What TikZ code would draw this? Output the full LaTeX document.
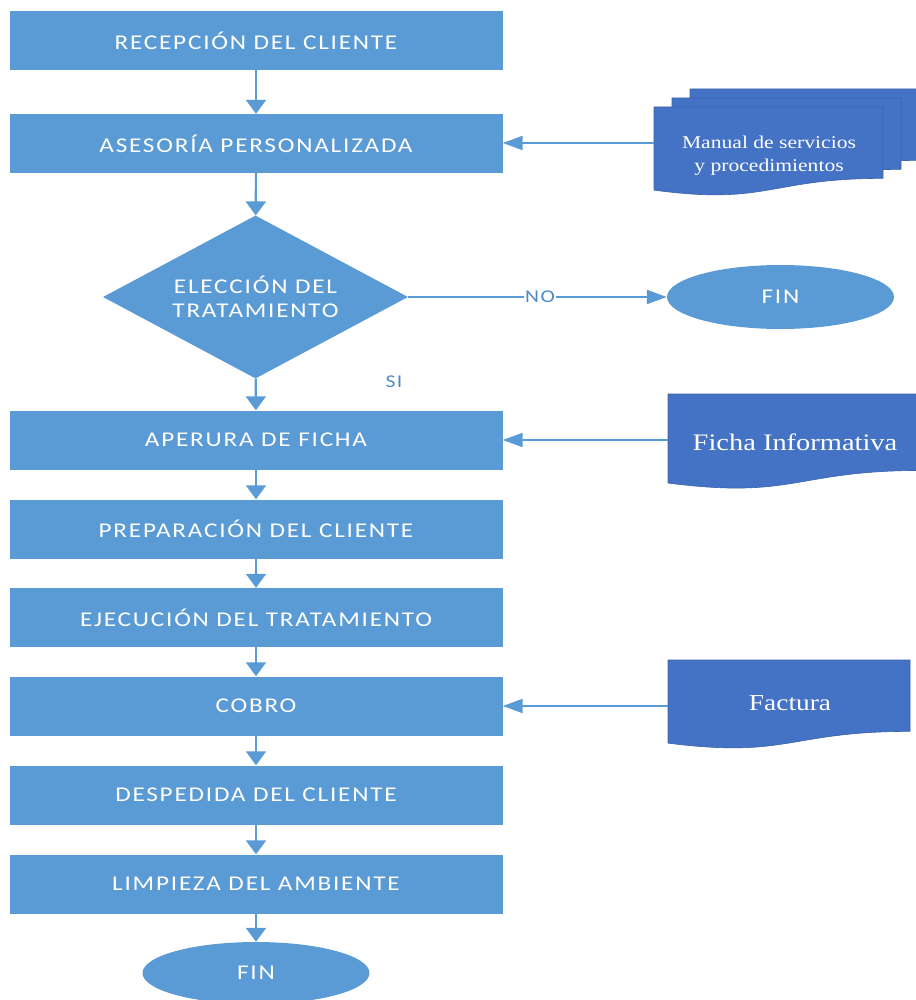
\documentclass[tikz,border=0pt]{standalone}
\usepackage{fontspec}
\setmainfont{Carlito}[FakeStretch=1.2, LetterSpace=8.5]
\newfontfamily\docfont{Liberation Serif}[FakeStretch=1.2]
\usetikzlibrary{shapes.geometric,arrows.meta}
\definecolor{boxblue}{HTML}{5B9BD5}
\definecolor{docblue}{HTML}{4472C4}
\definecolor{docedge}{HTML}{3A63AD}
\definecolor{lblblue}{HTML}{4E8ACB}
\newcommand\mydoc[4]{\path[docshape] (#1,#2) -- ({#1+#3},#2) -- ({#1+#3},{#2+0.802*#4}) .. controls ({#1+0.5*#3},{#2+0.802*#4}) and ({#1+0.5*#3},{#2+1.107*#4}) .. (#1,{#2+0.934*#4}) -- cycle;}
\tikzset{
  procbox/.style={rectangle, fill=boxblue, minimum width=493pt, minimum height=59pt, text=white, font=\fontsize{21}{24}\selectfont, inner sep=0pt},
  decision/.style={diamond, aspect=1.87, fill=boxblue, minimum width=305pt, minimum height=163pt, text=white, font=\fontsize{21}{24}\selectfont, align=center, inner sep=0pt},
  terminal/.style={ellipse, fill=boxblue, minimum width=227pt, minimum height=62pt, text=white, font=\fontsize{21}{24}\selectfont, inner sep=0pt},
  flow/.style={draw=boxblue, line width=2.2pt, -{Triangle[length=14pt,width=20pt]}},
  sideflow/.style={draw=boxblue, line width=2.2pt, -{Triangle[length=20pt,width=14pt]}},
  docshape/.style={fill=docblue, draw=docedge, line width=0.6pt},
  doctext/.style={text=white, align=center, inner sep=0pt},
  lbl/.style={text=lblblue, font=\fontsize{18}{20}\selectfont, inner sep=1pt}
}
\begin{document}
\begin{tikzpicture}[x=1pt,y=-1pt]
\useasboundingbox (0,0) rectangle (915,1000);
% process boxes
\node[procbox] (recep)    at (256,40.5)  {RECEPCIÓN DEL CLIENTE};
\node[procbox] (asesoria) at (256,143.5) {ASESORÍA PERSONALIZADA};
\node[decision] (eleccion) at (255.5,297) {ELECCIÓN DEL\\TRATAMIENTO};
\node[procbox] (apertura) at (256,440)   {APERURA DE FICHA};
\node[procbox] (prep)     at (256,529)   {PREPARACIÓN DEL CLIENTE};
\node[procbox] (ejec)     at (256,617.5) {EJECUCIÓN DEL TRATAMIENTO};
\node[procbox] (cobro)    at (256,706)   {COBRO};
\node[procbox] (desp)     at (256,795)   {DESPEDIDA DEL CLIENTE};
\node[procbox] (limp)     at (256,884)   {LIMPIEZA DEL AMBIENTE};
\node[terminal] (fin)     at (256,973)   {FIN};
\node[terminal, minimum height=64pt] (finno) at (780.5,297) {FIN};
% documents
\mydoc{690}{89}{229}{89}
\mydoc{672}{98}{229}{89}
\mydoc{654}{107}{229}{89}
\node[doctext, font=\docfont\fontsize{18}{23}\selectfont] (manualtxt) at (769,156) {Manual de servicios\\y procedimientos};
\mydoc{668}{394}{254}{95.3}
\node[doctext, font=\docfont\fontsize{23.7}{26}\selectfont] (fichatxt) at (795,442) {Ficha Informativa};
\mydoc{668}{660}{242}{89}
\node[doctext, font=\docfont\fontsize{22.8}{26}\selectfont] (facturatxt) at (790,703) {Factura};
\coordinate (manualin) at (654,143);
\coordinate (fichain) at (668,440);
\coordinate (facturain) at (668,706);
% main flow
\draw[flow] (recep) -- (asesoria);
\draw[flow] (asesoria) -- (eleccion);
\draw[flow] (eleccion) -- (apertura);
\draw[flow] (apertura) -- (prep);
\draw[flow] (prep) -- (ejec);
\draw[flow] (ejec) -- (cobro);
\draw[flow] (cobro) -- (desp);
\draw[flow] (desp) -- (limp);
\draw[flow] (limp) -- (fin);
\draw[sideflow] (eleccion.east) -- node[lbl, fill=white, pos=0.51] (nolbl) {NO} (finno.west);
\node[lbl] (silbl) at (394,382) {SI};
% document inputs
\draw[sideflow] (manualin) -- (manualin -| asesoria.east);
\draw[sideflow] (fichain) -- (apertura.east);
\draw[sideflow] (facturain) -- (cobro.east);
\end{tikzpicture}
\end{document}
